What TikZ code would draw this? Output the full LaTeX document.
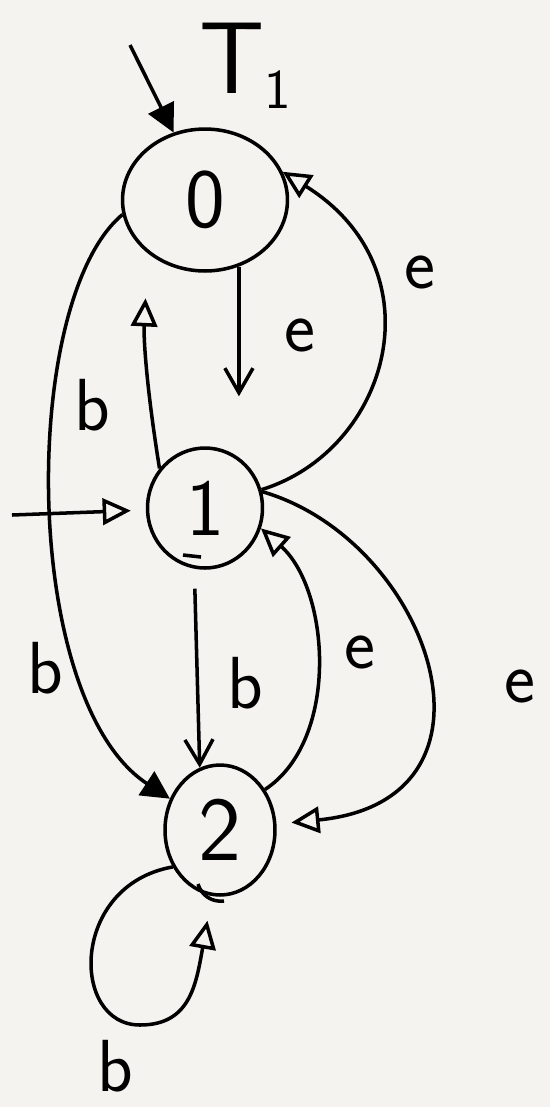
\documentclass[tikz,border=0pt]{standalone}
\usepackage{tikz}
\usetikzlibrary{arrows.meta, shapes.geometric}

\tikzset{
  estado/.style={draw, ellipse, inner sep=0pt, line width=2pt},
  etiq/.style={font=\fontsize{42}{44}\sffamily\selectfont},
  flecha/.style={line width=2pt, -{Triangle[open, length=16pt, width=15pt]}},
  punta/.style={line width=2pt, -{Straight Barb[length=14pt, width=16pt]}}
}

\begin{document}
\begin{tikzpicture}[x=0.02cm, y=-0.02cm]
        \useasboundingbox[fill={rgb,255:red,244;green,243;blue,240}] (0,0) rectangle (550,1107);

        % Estados
        \node[estado, minimum width=3.3cm, minimum height=2.84cm, font=\fontsize{48}{50}\sffamily\selectfont] (s0) at (205,200) {0};
        \node[estado, minimum width=2.3cm, minimum height=2.4cm, font=\fontsize{46}{48}\sffamily\selectfont] (s1) at (205,508) {1};
        \node[estado, minimum width=2.2cm, minimum height=2.6cm, font=\fontsize{52}{54}\sffamily\selectfont] (s2) at (220,830) {2};

        % Marcas de aceptación
        \draw[line width=2pt] (183,555) -- (201,557);
        \draw[line width=2pt] (198,884) to[bend right=40] (224,901);

        \node[font=\fontsize{58}{60}\sffamily\selectfont] (tit) at (245,66) {T\raisebox{-0.35ex}{\fontsize{32}{34}\selectfont 1}};

        % Entradas
        \coordinate (ini0) at (130,45);
        \coordinate (ini1) at (12,515);
        \draw[line width=2pt, -{Triangle[length=16pt, width=16pt]}] (ini0) -- (s0.115);
        \draw[flecha, shorten >=0.3cm] (ini1) -- (s1.182);

        % Transiciones
        \draw[punta, shorten >=1cm] (s0.-63) -- (s0.-63 |- s1.north);
        \draw[flecha, shorten >=0.9cm] (s1.139) to[bend left=6] (s0.-137);
        \draw[flecha] (s1.18) .. controls (390,450) and (440,270) .. (s0.20);
        \draw[line width=2pt, -{Triangle[length=16pt, width=16pt]}] (s0.190) .. controls (20,300) and (20,700) .. (s2.148);
        \draw[punta, shorten <=0.4cm] (s1.-100) -- (s2.108);
        \draw[flecha] (s2.42) .. controls (340,740) and (330,590) .. (s1.-20);
        \draw[flecha, shorten >=0.3cm] (s1.16) .. controls (430,540) and (520,800) .. (s2.6);
        \draw[flecha, shorten >=0.5cm] (s2.-142) .. controls (70,885) and (70,1025) .. (140,1025)
              .. controls (190,1025) and (196,985) .. (s2.-97);

        % Etiquetas
        \node[etiq] (l01) at (300,335) {e};
        \node[etiq] (l10) at (92,405) {b};
        \node[etiq] (l10e) at (420,272) {e};
        \node[etiq] (l02) at (45,668) {b};
        \node[etiq] (l12) at (245,683) {b};
        \node[etiq] (l21) at (360,652) {e};
        \node[etiq] (l12e) at (520,686) {e};
        \node[etiq] (l22) at (115,1066) {b};
    \end{tikzpicture}
\end{document}
